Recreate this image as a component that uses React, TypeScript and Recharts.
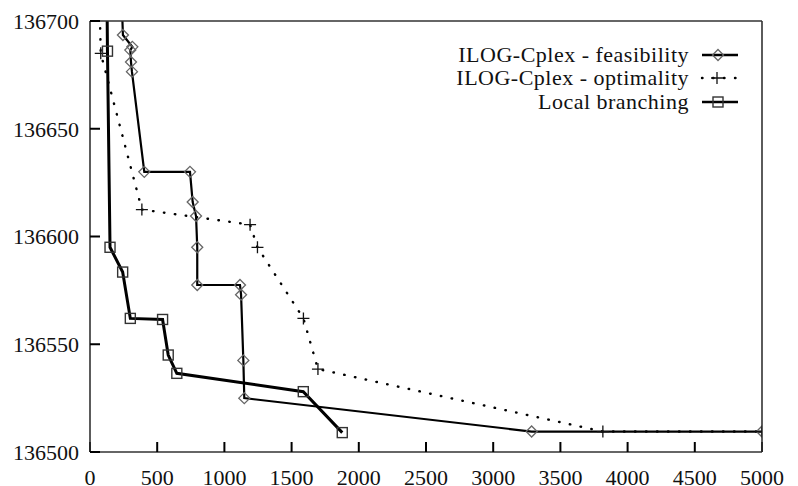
import React from 'react';
import { LineChart, Line, XAxis, YAxis, Legend } from 'recharts';

const X_TICKS = [0, 500, 1000, 1500, 2000, 2500, 3000, 3500, 4000, 4500, 5000];
const Y_TICKS = [136500, 136550, 136600, 136650, 136700];

// ILOG-Cplex - feasibility (first point sits above the plot and is clipped)
const feasX = [230, 245, 315, 300, 305, 312, 404, 744, 764, 789, 798, 798, 1116, 1124, 1141, 1148, 3286, 5000];
const feasY = [136720, 136693.5, 136688, 136686.5, 136681, 136676.5, 136630, 136630, 136616, 136609.5, 136595, 136577.5, 136577.5, 136573, 136542.5, 136525, 136509.5, 136509.5];

// ILOG-Cplex - optimality
const optX = [70, 80, 386, 1191, 1246, 1588, 1696, 3816, 5000];
const optY = [136712, 136685, 136612.5, 136605.5, 136595, 136562, 136538.5, 136509.5, 136509.5];

// Local branching
const lbX = [125, 130, 149, 243, 300, 540, 582, 646, 1587, 1877];
const lbY = [136720, 136686, 136595, 136583.5, 136562, 136561.5, 136545, 136536.5, 136528, 136509];

const toRows = (xs: number[], ys: number[]) => xs.map((x, i) => ({ x, y: ys[i] }));

const feasData = toRows(feasX, feasY);
const optData = toRows(optX, optY);
const lbData = toRows(lbX, lbY);

const FONT = '"Liberation Serif", "Times New Roman", serif';

const Diamond = ({ cx, cy }: { cx: number; cy: number }) => (
  <path
    d={`M${cx},${cy - 5.5}L${cx + 5.5},${cy}L${cx},${cy + 5.5}L${cx - 5.5},${cy}Z`}
    fill="none"
    stroke="#666"
    strokeWidth={1.3}
  />
);

const Plus = ({ cx, cy }: { cx: number; cy: number }) => (
  <path d={`M${cx - 6},${cy}H${cx + 6}M${cx},${cy - 6}V${cy + 6}`} stroke="#111" strokeWidth={1.3} />
);

const Square = ({ cx, cy }: { cx: number; cy: number }) => (
  <rect x={cx - 5} y={cy - 5} width={10} height={10} fill="none" stroke="#333" strokeWidth={1.4} />
);

const dotOf = (Shape: React.FC<{ cx: number; cy: number }>) => (props: any) => {
  const { cx, cy, index } = props;
  if (cx == null || cy == null) return <g key={`d-${index}`} />;
  return (
    <g key={`d-${index}`}>
      <Shape cx={cx} cy={cy} />
    </g>
  );
};

const legendSymbols: Record<string, (w: number, h: number) => React.ReactNode> = {
  'ILOG-Cplex - feasibility': (w, h) => (
    <>
      <line x1={0} x2={w} y1={h / 2} y2={h / 2} stroke="#000" strokeWidth={2.4} />
      <Diamond cx={w / 2 - 2} cy={h / 2} />
    </>
  ),
  'ILOG-Cplex - optimality': (w, h) => (
    <>
      <line x1={0} x2={w} y1={h / 2} y2={h / 2} stroke="#000" strokeWidth={2.4}
        strokeDasharray="0.5 10.5" strokeLinecap="round" />
      <Plus cx={w / 2 - 3} cy={h / 2} />
    </>
  ),
  'Local branching': (w, h) => (
    <>
      <line x1={0} x2={w} y1={h / 2} y2={h / 2} stroke="#000" strokeWidth={2.6} />
      <Square cx={w / 2 - 2} cy={h / 2} />
    </>
  ),
};

const renderLegend = (props: any) => {
  const { payload = [] } = props;
  return (
    <div style={{ fontFamily: FONT, fontSize: 22, letterSpacing: 0.5, color: '#111' }}>
      {payload.map((entry: any) => (
        <div key={entry.value} style={{ display: 'flex', alignItems: 'center', justifyContent: 'flex-end', height: 23.5 }}>
          <span style={{ marginRight: 13, whiteSpace: 'nowrap' }}>{entry.value}</span>
          <svg width={36} height={16} style={{ overflow: 'visible' }}>
            {legendSymbols[entry.value]?.(36, 16)}
          </svg>
        </div>
      ))}
    </div>
  );
};

export default function App() {
  const tickStyle = { fontFamily: FONT, fontSize: 22, fill: '#111' };
  return (
    <div style={{ position: 'absolute', left: 0, top: 0, background: '#fff', fontFamily: FONT }}>
      <LineChart width={798} height={486} margin={{ top: 20, right: 35, bottom: 0, left: 0 }}>
        <XAxis
          dataKey="x"
          type="number"
          domain={[0, 5000]}
          ticks={X_TICKS}
          allowDataOverflow
          height={34}
          tickSize={-10}
          tickMargin={27}
          tick={tickStyle}
          axisLine={{ stroke: '#333', strokeWidth: 1.6 }}
          tickLine={{ stroke: '#000', strokeWidth: 2 }}
        />
        <XAxis
          xAxisId="top"
          orientation="top"
          dataKey="x"
          type="number"
          domain={[0, 5000]}
          ticks={X_TICKS}
          height={1}
          tickSize={-10}
          tick={false}
          axisLine={{ stroke: '#333', strokeWidth: 1.6 }}
          tickLine={{ stroke: '#000', strokeWidth: 2 }}
        />
        <YAxis
          type="number"
          domain={[136500, 136700]}
          ticks={Y_TICKS}
          allowDataOverflow
          width={90}
          tickSize={-10}
          tickMargin={21}
          tick={tickStyle}
          axisLine={{ stroke: '#333', strokeWidth: 1.6 }}
          tickLine={{ stroke: '#000', strokeWidth: 2 }}
        />
        <YAxis
          yAxisId="right"
          orientation="right"
          type="number"
          domain={[136500, 136700]}
          ticks={Y_TICKS}
          width={1}
          tickSize={-10}
          tick={false}
          axisLine={{ stroke: '#333', strokeWidth: 1.6 }}
          tickLine={{ stroke: '#000', strokeWidth: 2 }}
        />
        <Legend
          layout="horizontal"
          verticalAlign="middle"
          align="center"
          content={renderLegend}
          wrapperStyle={{ top: 43, right: 60, left: 'auto', width: 'auto' }}
        />
        <Line
          data={feasData}
          dataKey="y"
          name="ILOG-Cplex - feasibility"
          type="linear"
          stroke="#000"
          strokeWidth={2.2}
          dot={dotOf(Diamond)}
          activeDot={false}
          isAnimationActive={false}
        />
        <Line
          data={optData}
          dataKey="y"
          name="ILOG-Cplex - optimality"
          type="linear"
          stroke="#000"
          strokeWidth={2.4}
          strokeDasharray="0.5 10.5"
          strokeLinecap="round"
          dot={dotOf(Plus)}
          activeDot={false}
          isAnimationActive={false}
        />
        <Line
          data={lbData}
          dataKey="y"
          name="Local branching"
          type="linear"
          stroke="#000"
          strokeWidth={3}
          dot={dotOf(Square)}
          activeDot={false}
          isAnimationActive={false}
        />
      </LineChart>
    </div>
  );
}
